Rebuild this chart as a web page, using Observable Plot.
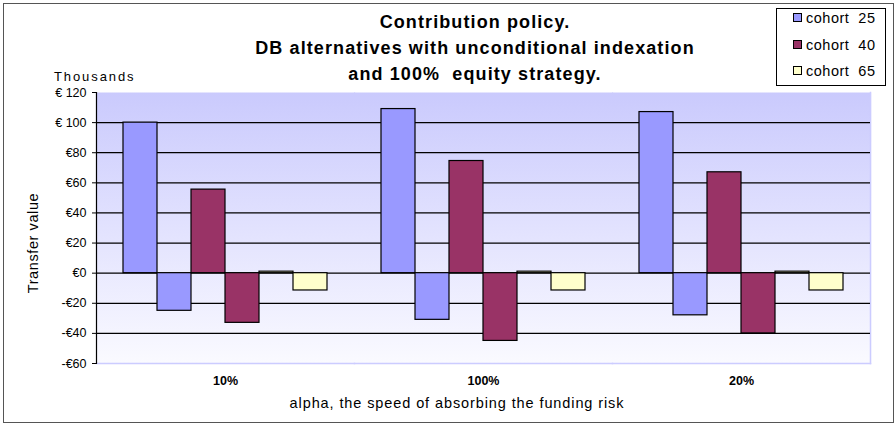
<!DOCTYPE html>
<html><head><meta charset="utf-8">
<script src="https://cdn.jsdelivr.net/npm/d3@7"></script>
<script src="https://cdn.jsdelivr.net/npm/@observablehq/plot@0.6"></script>
<style>
body{margin:0;background:#fff;}
#wrap{position:relative;width:896px;height:424px;font-family:"Liberation Sans",Arial,sans-serif;color:#000;overflow:hidden;}
#border{position:absolute;left:3px;top:3px;width:891px;height:420px;border:1px solid #555;box-sizing:border-box;pointer-events:none;}
#chart{position:absolute;left:0;top:0;}
#title{position:absolute;left:175px;width:600px;top:9px;text-align:center;font-weight:bold;font-size:18px;line-height:26px;letter-spacing:1.1px;}
#thousands{position:absolute;left:54px;top:69px;font-size:13px;letter-spacing:1.9px;}
#ylabel{position:absolute;left:33px;top:243px;font-size:14.5px;letter-spacing:0.6px;transform:translate(-50%,-50%) rotate(-90deg);white-space:nowrap;}
#xlabel{position:absolute;left:457px;top:403px;font-size:14.5px;letter-spacing:0.9px;transform:translate(-50%,-50%);white-space:nowrap;}
#legend{position:absolute;left:776px;top:8px;width:110px;height:78px;border:1px solid #000;box-sizing:border-box;background:#fff;}
.li{position:absolute;left:16px;font-size:14.5px;letter-spacing:0.5px;white-space:nowrap;}
.sw{display:inline-block;width:7px;height:7px;border:1px solid #000;margin-right:4px;vertical-align:1px;}
</style></head>
<body>
<div id="wrap">
  <div id="chart"></div>
  <div id="title">Contribution policy.<br>DB alternatives with unconditional indexation<br>and 100%&nbsp; equity strategy.</div>
  <div id="thousands">Thousands</div>
  <div id="ylabel">Transfer value</div>
  <div id="xlabel">alpha, the speed of absorbing the funding risk</div>
  <div id="legend"></div>
  <div id="border"></div>
</div>
<script>
const categories = ["10%", "100%", "20%"];
const cohorts = ["cohort 25", "cohort 40", "cohort 65"];
const cohortColors = ["#9999FF", "#993366", "#FFFFCC"];
// positive and negative component of each cohort, per category
const cohort25Pos = [100, 109, 107];
const cohort25Neg = [-25, -31, -28];
const cohort40Pos = [55.5, 74.5, 67];
const cohort40Neg = [-33, -45, -40];
const cohort65Pos = [1, 1, 1];
const cohort65Neg = [-11.5, -11.5, -11.5];
const yTicks = [120, 100, 80, 60, 40, 20, 0, -20, -40, -60];
const yTickLabels = ["€ 120", "€ 100", "€80", "€60", "€40", "€20", "€0", "-€20", "-€40", "-€60"];
const gridValues = [100, 80, 60, 40, 20, 0, -20, -40];

const seriesList = [
  {cohort: cohorts[0], values: cohort25Pos},
  {cohort: cohorts[0], values: cohort25Neg},
  {cohort: cohorts[1], values: cohort40Pos},
  {cohort: cohorts[1], values: cohort40Neg},
  {cohort: cohorts[2], values: cohort65Pos},
  {cohort: cohorts[2], values: cohort65Neg}
];
const data = [];
categories.forEach((c, i) => seriesList.forEach((s, j) => data.push({category: c, slot: j, cohort: s.cohort, value: s.values[i]})));

const chart = Plot.plot({
  width: 896, height: 424,
  marginLeft: 96, marginRight: 26, marginTop: 92, marginBottom: 61,
  style: {fontFamily: "'Liberation Sans', Arial, sans-serif", fontSize: "12.5px", color: "#000", background: "transparent", overflow: "visible"},
  fx: {domain: categories, padding: 0, label: null},
  x: {domain: d3.range(6), paddingInner: 0, paddingOuter: 0.75, axis: null},
  y: {domain: [-60, 120], label: null},
  color: {domain: cohorts, range: cohortColors},
  marks: [
    Plot.frame({fill: "url(#plotBg)", stroke: null, insetLeft: -0.6, insetRight: -0.6}),
    Plot.frame({anchor: "bottom", stroke: "#ccccff", strokeWidth: 1.5}),
    Plot.frame({anchor: "right", facetAnchor: "right", stroke: "#ccccff", strokeWidth: 1.5}),
    Plot.ruleY(gridValues, {stroke: "#000", strokeWidth: 1.2}),
    Plot.rectY(data, {fx: "category", x: "slot", y: "value", fill: "cohort", stroke: "#000", strokeWidth: 1.2}),
    Plot.frame({anchor: "left", facetAnchor: "left", stroke: "#000", strokeWidth: 1.2}),
    Plot.axisY({ticks: yTicks, tickFormat: d => yTickLabels[yTicks.indexOf(d)], tickSize: 4, tickPadding: 6, label: null, style: {letterSpacing: "1.6px"}}),
    Plot.axisFx({anchor: "bottom", tickSize: 0, tickPadding: 13, label: null, fontWeight: "bold", style: {letterSpacing: "0.6px"}})
  ]
});
const defs = document.createElementNS("http://www.w3.org/2000/svg", "defs");
defs.innerHTML = '<linearGradient id="plotBg" x1="0" y1="0" x2="0" y2="1"><stop offset="0" stop-color="#cacafd"/><stop offset="1" stop-color="#fafaff"/></linearGradient>';
chart.insertBefore(defs, chart.firstChild);
document.getElementById("chart").appendChild(chart);

const legend = document.getElementById("legend");
cohorts.forEach((c, i) => {
  const d = document.createElement("div");
  d.className = "li";
  d.style.top = (1 + i * 26.5) + "px";
  d.innerHTML = '<span class="sw" style="background:' + cohortColors[i] + '"></span>' + c.replace(" ", "&nbsp; ");
  legend.appendChild(d);
});
</script>
</body></html>
